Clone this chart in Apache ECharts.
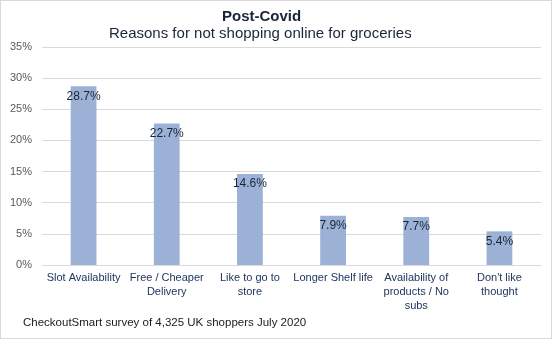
<!DOCTYPE html>
<html>
<head>
<meta charset="utf-8">
<script src="https://cdn.jsdelivr.net/npm/echarts@6/dist/echarts.min.js"></script>
<style>
  html, body { margin: 0; padding: 0; background: #fff; }
  #chart { width: 552px; height: 339px; box-sizing: border-box; border: 1px solid #d9d9d9; }
</style>
</head>
<body>
<div id="chart"></div>
<script>
// Reasons for not shopping online for groceries (share of respondents, %)
const categories = [
  'Slot Availability',
  'Free / Cheaper\nDelivery',
  'Like to go to\nstore',
  'Longer Shelf life',
  'Availability of\nproducts / No\nsubs',
  "Don't like\nthought"
];
const shares = [28.7, 22.7, 14.6, 7.9, 7.7, 5.4];
const yTicks = { min: 0, max: 35, step: 5 };

const chart = echarts.init(document.getElementById('chart'), null, { renderer: 'canvas' });
const font = 'Liberation Sans, Arial, sans-serif';

chart.setOption({
  animation: false,
  backgroundColor: '#fff',
  title: [
    {
      text: 'Post-Covid',
      left: 221,
      top: 8,
      padding: 0,
      textStyle: { fontFamily: font, fontSize: 15, fontWeight: 'bold', color: '#1a2539' }
    },
    {
      text: 'Reasons for not shopping online for groceries',
      left: 108,
      top: 25,
      padding: 0,
      textStyle: { fontFamily: font, fontSize: 15, fontWeight: 'normal', color: '#1a2539' }
    },
    {
      text: 'CheckoutSmart survey of 4,325 UK shoppers July 2020',
      left: 22,
      top: 316,
      padding: 0,
      textStyle: { fontFamily: font, fontSize: 11.5, fontWeight: 'normal', color: '#1a1a1a' }
    }
  ],
  grid: { left: 41, right: 10, top: 46, bottom: 73, containLabel: false },
  xAxis: {
    type: 'category',
    data: categories,
    axisLine: { show: true, lineStyle: { color: '#d9d9d9', width: 1 } },
    axisTick: { show: false },
    axisLabel: {
      interval: 0,
      fontFamily: font,
      fontSize: 11,
      color: '#1f3560',
      lineHeight: 14,
      margin: 6
    }
  },
  yAxis: {
    type: 'value',
    min: yTicks.min,
    max: yTicks.max,
    interval: yTicks.step,
    axisLine: { show: false },
    axisTick: { show: false },
    splitLine: { lineStyle: { color: '#d9d9d9', width: 1 } },
    axisLabel: {
      fontFamily: font,
      fontSize: 11,
      color: '#595959',
      margin: 10,
      formatter: v => v + '%'
    }
  },
  series: [{
    type: 'bar',
    data: shares,
    barWidth: '31%',
    itemStyle: { color: '#9bb2d6' },
    label: {
      show: true,
      position: 'insideTop',
      distance: 4,
      fontFamily: font,
      fontSize: 12,
      color: '#1a2539',
      formatter: p => p.value.toFixed(1) + '%'
    }
  }]
});
</script>
</body>
</html>
